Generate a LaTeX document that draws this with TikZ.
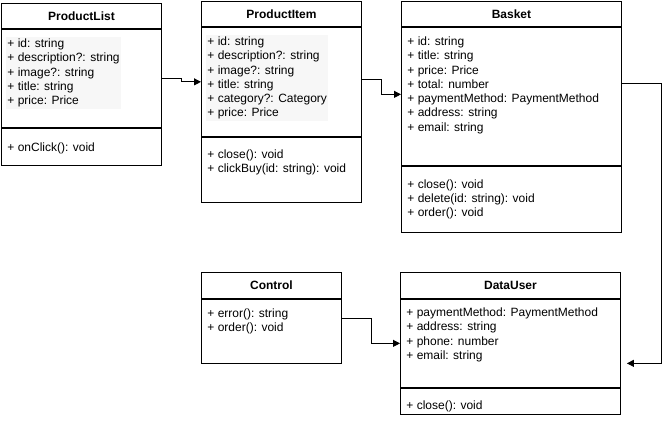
\documentclass[tikz,border=0pt]{standalone}
\usepackage{fontspec}
\setmainfont{Liberation Sans}
\usetikzlibrary{arrows.meta,positioning,calc}

\begin{document}
\begin{tikzpicture}[x=1pt,y=-1pt,>={Triangle[length=7pt,width=7pt]},font=\fontsize{12pt}{14.3pt}\selectfont,line width=0.9pt]
    \useasboundingbox (0,0) rectangle (669,426);
    \tikzset{
      part/.style={draw, rectangle, inner sep=0pt, anchor=north, font=\fontsize{12pt}{14.3pt}\selectfont\bfseries},
      txt/.style={anchor=north west, inner sep=0pt, align=left},
      shade/.style={txt, fill=black!3, inner xsep=1pt, inner ysep=2pt},
      link/.style={->, line width=0.9pt}
    }

    % ProductList
    \node[part, anchor=north west, minimum width=160pt, minimum height=25pt] (pltitle) at (1,3) {ProductList};
    \node[part, below=0pt of pltitle, minimum width=160pt, minimum height=98pt] (plattr) {};
    \node[part, below=0pt of plattr, minimum width=160pt, minimum height=37pt] (plmeth) {};
    \node[shade] (pltext) at ([xshift=5pt,yshift=-7.4pt]plattr.north west) {+ id: string\\+ description?: string\\+ image?: string\\+ title: string\\+ price: Price};
    \node[txt] (plops) at ([xshift=6pt,yshift=-14.4pt]plmeth.north west) {+ onClick(): void};

    % ProductItem
    \node[part, anchor=north west, minimum width=160pt, minimum height=25pt] (pititle) at (201,1) {ProductItem};
    \node[part, below=0pt of pititle, minimum width=160pt, minimum height=109pt] (piattr) {};
    \node[part, below=0pt of piattr, minimum width=160pt, minimum height=65pt] (pimeth) {};
    \node[shade] (pitext) at ([xshift=5pt,yshift=-7.4pt]piattr.north west) {+ id: string\\+ description?: string\\+ image?: string\\+ title: string\\+ category?: Category\\+ price: Price};
    \node[txt] (piops) at ([xshift=6pt,yshift=-12.4pt]pimeth.north west) {+ close(): void\\+ clickBuy(id: string): void};

    % Basket
    \node[part, anchor=north west, minimum width=220pt, minimum height=25pt] (batitle) at (401,1) {Basket};
    \node[part, below=0pt of batitle, minimum width=220pt, minimum height=138pt] (baattr) {};
    \node[part, below=0pt of baattr, minimum width=220pt, minimum height=66pt] (bameth) {};
    \node[txt] (batext) at ([xshift=6pt,yshift=-9.4pt]baattr.north west) {+ id: string\\+ title: string\\+ price: Price\\+ total: number\\+ paymentMethod: PaymentMethod\\+ address: string\\+ email: string};
    \node[txt] (baops) at ([xshift=6pt,yshift=-13.4pt]bameth.north west) {+ close(): void\\+ delete(id: string): void\\+ order(): void};

    % Control
    \node[part, anchor=north west, minimum width=140pt, minimum height=26pt] (cttitle) at (201,272) {Control};
    \node[part, below=0pt of cttitle, minimum width=140pt, minimum height=64pt] (ctmeth) {};
    \node[txt] (ctops) at ([xshift=6pt,yshift=-9.4pt]ctmeth.north west) {+ error(): string\\+ order(): void};

    % DataUser
    \node[part, anchor=north west, minimum width=220pt, minimum height=26pt] (dutitle) at (400,272) {DataUser};
    \node[part, below=0pt of dutitle, minimum width=220pt, minimum height=88pt] (duattr) {};
    \node[part, below=0pt of duattr, minimum width=220pt, minimum height=26pt] (dumeth) {};
    \node[txt] (dutext) at ([xshift=6pt,yshift=-8.4pt]duattr.north west) {+ paymentMethod: PaymentMethod\\+ address: string\\+ phone: number\\+ email: string};
    \node[txt] (duops) at ([xshift=6pt,yshift=-12.4pt]dumeth.north west) {+ close(): void};

    % connectors
    \draw[link] (plattr.east) -| ($(plattr.east)!.5!(piattr.west)$) |- (piattr.west);
    \draw[link] ([yshift=2pt]piattr.east) -| ($(piattr.east)!.5!(baattr.west)$) |- ([yshift=2pt]baattr.west);
    \coordinate (baout) at ([yshift=13pt]baattr.east);
    \coordinate (duin) at ([xshift=6pt,yshift=-20pt]duattr.east);
    \draw[link] (baout) -- ++(40,0) |- (duin);
    \draw[link] ([yshift=13pt]ctmeth.east) -| ($(ctmeth.east)!.5!(duattr.west)$) |- (duattr.west);
\end{tikzpicture}
\end{document}
